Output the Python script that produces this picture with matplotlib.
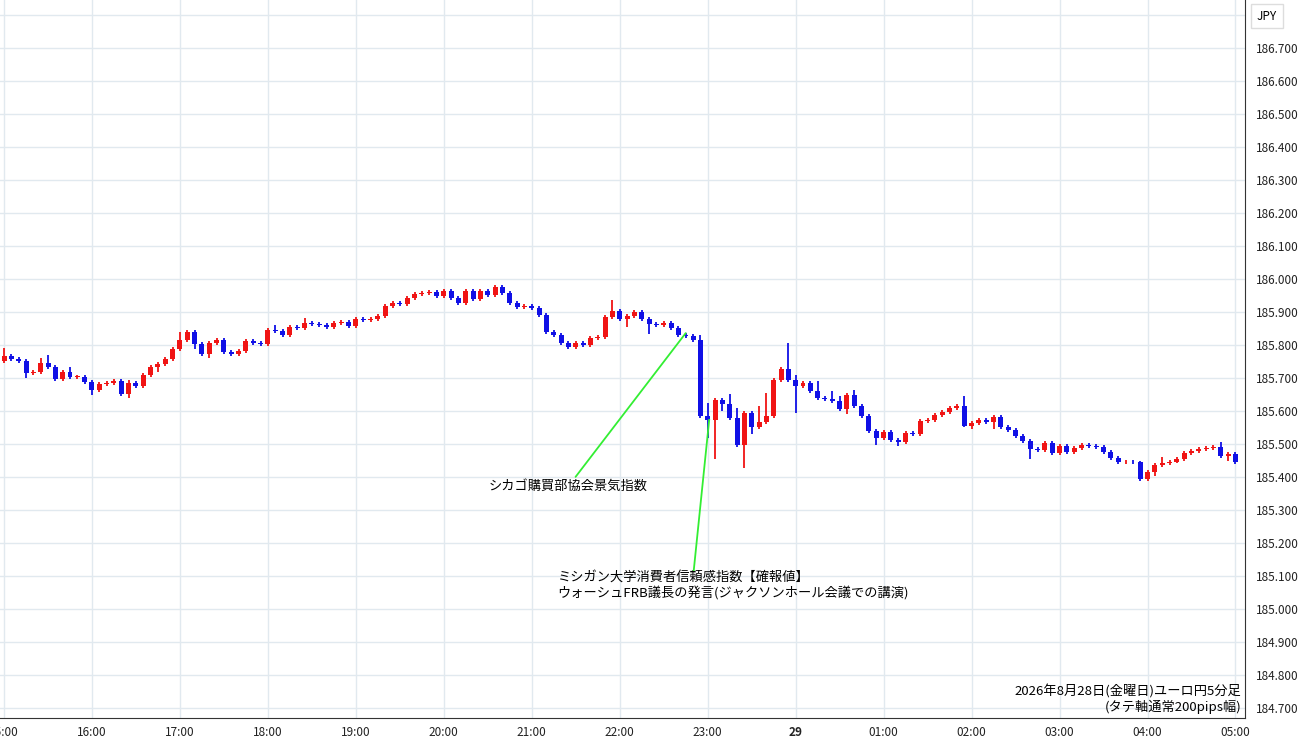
import matplotlib
matplotlib.use("Agg")
import matplotlib.pyplot as plt
from matplotlib.patches import Rectangle

plt.rcParams['font.family'] = ['Noto Sans CJK JP', 'DejaVu Sans']

first_open = 185.751
closes = [
185.766,185.757,185.751,185.715,185.718,185.745,185.733,185.696,185.718,185.703,
185.703,185.687,185.663,185.682,185.685,185.690,185.650,185.685,185.675,185.708,
185.733,185.742,185.757,185.787,185.815,185.839,185.802,185.772,185.805,185.815,
185.779,185.772,185.782,185.812,185.805,185.802,185.845,185.842,185.830,185.854,
185.851,185.866,185.863,185.860,185.854,185.866,185.869,185.857,185.878,185.876,
185.878,185.887,185.917,185.927,185.924,185.942,185.954,185.957,185.960,185.948,
185.963,185.942,185.927,185.963,185.939,185.963,185.951,185.975,185.957,185.927,
185.915,185.917,185.912,185.891,185.839,185.830,185.805,185.794,185.805,185.800,
185.820,185.823,185.884,185.902,185.878,185.887,185.899,185.878,185.863,185.860,
185.866,185.851,185.830,185.826,185.815,185.584,185.574,185.632,185.620,185.578,
185.496,185.593,185.551,185.566,185.584,185.693,185.726,185.693,185.675,185.685,
185.660,185.638,185.635,185.630,185.605,185.648,185.614,185.584,185.538,185.517,
185.535,185.511,185.505,185.533,185.530,185.569,185.574,185.587,185.596,185.608,
185.614,185.556,185.563,185.572,185.566,185.581,185.551,185.541,185.523,185.508,
185.484,185.481,185.502,185.472,185.493,185.475,185.487,185.496,185.493,185.490,
185.475,185.457,185.444,185.447,185.444,185.393,185.414,185.436,185.441,185.447,
185.454,185.472,185.478,185.484,185.487,185.490,185.465,185.469,185.444]
# wicks in pips beyond the body (candle index: pips); other candles use default_wick
wick_up = {0: 2.5, 5: 1.5, 6: 2.5, 17: 1.0, 24: 2.5, 37: 1.5, 41: 1.5, 83: 3.5, 95: 1.5,
           96: 4.0, 99: 3.0, 100: 3.0, 103: 5.0, 104: 7.0, 107: 8.0, 108: 1.5, 111: 3.0,
           113: 2.5, 116: 1.5, 131: 3.0, 158: 2.0, 9: 1.5, 114: 1.5, 166: 1.5}
wick_dn = {3: 1.5, 17: 1.0, 21: 1.5, 85: 2.5, 88: 3.0, 96: 5.5, 97: 12.0, 98: 2.0,
           101: 7.0, 102: 2.0, 108: 8.0, 115: 1.5, 119: 2.0, 135: 2.0, 140: 3.0,
           157: 1.0, 26: 1.5, 28: 1.0, 132: 1.0, 122: 1.0, 12: 1.5, 167: 1.5}
default_wick = 0.6

hour_labels = ["15:00", "16:00", "17:00", "18:00", "19:00", "20:00", "21:00", "22:00",
               "23:00", "29", "01:00", "02:00", "03:00", "04:00", "05:00"]
y_ticks = [184.7 + 0.1 * k for k in range(22)]

fig = plt.figure(figsize=(13, 7.45), dpi=100)
ax = fig.add_axes([0, 27 / 745, 1245 / 1300, 718 / 745])
ax.set_xlim(-0.55, 169.3)
ax.set_ylim(184.670, 186.845)

red, blue = '#f01414', '#1010e6'
prev = first_open
for i, c in enumerate(closes):
    o = prev
    col = red if c >= o else blue
    lo_b, hi_b = min(o, c), max(o, c)
    hi = hi_b + wick_up.get(i, default_wick) * 0.01
    lo = lo_b - wick_dn.get(i, default_wick) * 0.01
    ax.vlines(i, lo, hi, color=col, lw=1.3, zorder=3)
    h = max(hi_b - lo_b, 0.002)
    ax.add_patch(Rectangle((i - 0.34, lo_b), 0.68, h, color=col, zorder=3, lw=0))
    prev = c

for k in range(len(hour_labels)):
    ax.axvline(12 * k, color='#e1e9ef', lw=1, zorder=0)
for t in y_ticks:
    ax.axhline(t, color='#e1e9ef', lw=1, zorder=0)

ax.set_xticks([12 * k for k in range(len(hour_labels))])
ax.set_xticklabels(hour_labels, fontsize=8.5, color='#222')
for lbl in ax.get_xticklabels():
    if lbl.get_text() == "29":
        lbl.set_fontweight('bold')
ax.tick_params(axis='x', length=0, pad=6)
ax.yaxis.tick_right()
ax.set_yticks(y_ticks[:21])
ax.set_yticklabels([f"{t:.3f}" for t in y_ticks[:21]], fontsize=8.5, color='#222')
ax.tick_params(axis='y', length=0, pad=8)
for s in ['top', 'left']:
    ax.spines[s].set_visible(False)
ax.spines['right'].set_color('#333')
ax.spines['bottom'].set_color('#333')

fig.text(1267 / 1300, 1 - 16 / 745, "JPY", fontsize=8.5, ha='center', va='center',
         bbox=dict(boxstyle='square,pad=0.5', fc='white', ec='#dddddd'))

green = '#33ee33'
ax.annotate("シカゴ購買部協会景気指数", xy=(93.0, 185.836), xytext=(77, 185.392),
            fontsize=9.5, ha='center', va='top',
            arrowprops=dict(arrowstyle='-', color=green, lw=1.3, shrinkA=0, shrinkB=0))
ax.plot([96.2, 94.1], [185.573, 185.118], color=green, lw=1.3, zorder=4)
ax.text(75.5, 185.115, "ミシガン大学消費者信頼感指数【確報値】\nウォーシュFRB議長の発言(ジャクソンホール会議での講演)",
        fontsize=9.5, ha='left', va='top', linespacing=1.1)
ax.text(168.8, 184.772, "2026年8月28日(金曜日)ユーロ円5分足\n(タテ軸通常200pips幅)",
        fontsize=9.5, ha='right', va='top', linespacing=1.1)

fig.savefig("out.png", dpi=100, facecolor='white')
